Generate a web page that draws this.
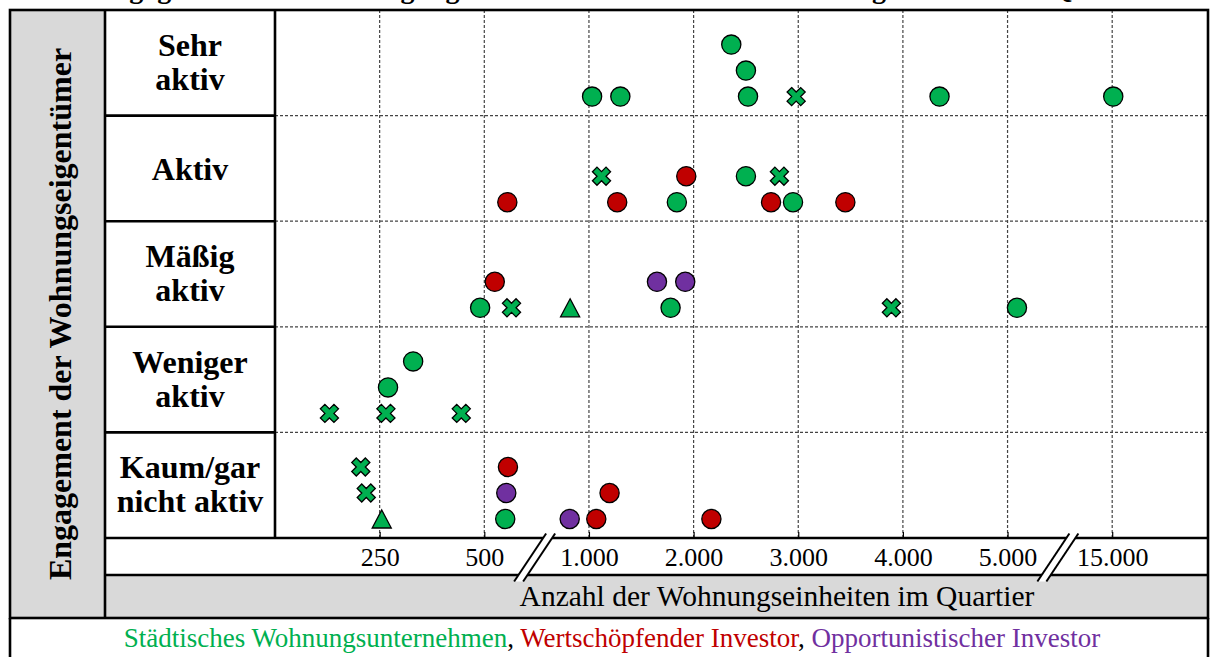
<!DOCTYPE html>
<html>
<head>
<meta charset="utf-8">
<script src="https://cdn.jsdelivr.net/npm/d3@7"></script>
<style>
  body { margin: 0; background: #fff; }
  svg { display: block; font-family: "Liberation Serif", "Times New Roman", serif; }
</style>
</head>
<body>
<div id="chart"></div>
<script>
var rows = ["Sehr aktiv", "Aktiv", "Mäßig aktiv", "Weniger aktiv", "Kaum/gar nicht aktiv"];
var rowLabels = [["Sehr", "aktiv"], ["Aktiv"], ["Mäßig", "aktiv"], ["Weniger", "aktiv"], ["Kaum/gar", "nicht aktiv"]];

var axisSteps = [0, 250, 500, 1000, 2000, 3000, 4000, 5000, 15000];
var tickValues = [250, 500, 1000, 2000, 3000, 4000, 5000, 15000];
var axisBreaks = [[500, 1000], [5000, 15000]];

var ownerTypes = ["Städtisches Wohnungsunternehmen", "Wertschöpfender Investor", "Opportunistischer Investor"];
var ownerColors = ["#00b050", "#c00000", "#7030a0"];

var yTitle = "Engagement der Wohnungseigentümer";
var xTitle = "Anzahl der Wohnungseinheiten im Quartier";
var topTitle = "Engagement der Wohnungseigentümer nach Anzahl der Wohnungseinheiten im Quartier";

// [engagement, units, stack level, marker]
var staedtisch = [
  ["Sehr aktiv", 1030, 0, "circle"],
  ["Sehr aktiv", 1300, 0, "circle"],
  ["Sehr aktiv", 2360, 2, "circle"],
  ["Sehr aktiv", 2500, 1, "circle"],
  ["Sehr aktiv", 2520, 0, "circle"],
  ["Sehr aktiv", 2980, 0, "cross"],
  ["Sehr aktiv", 4350, 0, "circle"],
  ["Sehr aktiv", 15100, 0, "circle"],
  ["Aktiv", 1120, 1, "cross"],
  ["Aktiv", 1840, 0, "circle"],
  ["Aktiv", 2500, 1, "circle"],
  ["Aktiv", 2820, 1, "cross"],
  ["Aktiv", 2950, 0, "circle"],
  ["Mäßig aktiv", 490, 0, "circle"],
  ["Mäßig aktiv", 630, 0, "cross"],
  ["Mäßig aktiv", 910, 0, "triangle"],
  ["Mäßig aktiv", 1780, 0, "circle"],
  ["Mäßig aktiv", 3890, 0, "cross"],
  ["Mäßig aktiv", 5900, 0, "circle"],
  ["Weniger aktiv", 330, 2, "circle"],
  ["Weniger aktiv", 270, 1, "circle"],
  ["Weniger aktiv", 130, 0, "cross"],
  ["Weniger aktiv", 265, 0, "cross"],
  ["Weniger aktiv", 445, 0, "cross"],
  ["Kaum/gar nicht aktiv", 205, 2, "cross"],
  ["Kaum/gar nicht aktiv", 218, 1, "cross"],
  ["Kaum/gar nicht aktiv", 255, 0, "triangle"],
  ["Kaum/gar nicht aktiv", 600, 0, "circle"]
];

var wertschoepfend = [
  ["Aktiv", 610, 0, "circle"],
  ["Aktiv", 1270, 0, "circle"],
  ["Aktiv", 1930, 1, "circle"],
  ["Aktiv", 2740, 0, "circle"],
  ["Aktiv", 3450, 0, "circle"],
  ["Mäßig aktiv", 550, 1, "circle"],
  ["Kaum/gar nicht aktiv", 613, 2, "circle"],
  ["Kaum/gar nicht aktiv", 1070, 0, "circle"],
  ["Kaum/gar nicht aktiv", 1197, 1, "circle"],
  ["Kaum/gar nicht aktiv", 2170, 0, "circle"]
];

var opportunistisch = [
  ["Mäßig aktiv", 1650, 1, "circle"],
  ["Mäßig aktiv", 1920, 1, "circle"],
  ["Kaum/gar nicht aktiv", 605, 1, "circle"],
  ["Kaum/gar nicht aktiv", 908, 0, "circle"]
];

var width = 1210,
  height = 657;

var frameLeft = 10,
  frameTop = 10,
  frameRight = 1208,
  frameBottom = 618,
  titleColRight = 105,
  plotLeft = 275,
  plotBottom = 538,
  tickRowBottom = 575;

var stepWidth = 104.65;

var x = d3
  .scaleLinear()
  .domain(axisSteps)
  .range(axisSteps.map(function(d, i) {
    return plotLeft + i * stepWidth;
  }));

var y = d3
  .scaleBand()
  .domain(rows)
  .range([frameTop, plotBottom]);

// position of a stacked marker inside its row
var level = d3
  .scaleLinear()
  .domain([0, 1])
  .range([y.bandwidth() - 19, y.bandwidth() - 45]);

var de = d3.formatLocale({ decimal: ",", thousands: ".", grouping: [3], currency: ["", " €"] });
var formatUnits = de.format(",d");

var svg = d3
  .select("#chart")
  .append("svg")
  .attr("width", width)
  .attr("height", height);

// heading above the frame, only its descenders are in view
svg
  .append("text")
  .attr("x", 95)
  .attr("y", -2)
  .attr("font-size", 28)
  .attr("font-weight", "bold")
  .text(topTitle);

// grey fills
svg
  .append("rect")
  .attr("x", frameLeft)
  .attr("y", frameTop)
  .attr("width", titleColRight - frameLeft)
  .attr("height", frameBottom - frameTop)
  .attr("fill", "#d9d9d9");

svg
  .append("rect")
  .attr("x", titleColRight)
  .attr("y", tickRowBottom)
  .attr("width", frameRight - titleColRight)
  .attr("height", frameBottom - tickRowBottom)
  .attr("fill", "#d9d9d9");

// dashed grid
var grid = svg.append("g").attr("stroke", "#444").attr("stroke-width", 1.2).attr("stroke-dasharray", "3,2");

grid
  .selectAll("line.v")
  .data(tickValues)
  .enter()
  .append("line")
  .attr("x1", function(d) { return x(d); })
  .attr("x2", function(d) { return x(d); })
  .attr("y1", frameTop)
  .attr("y2", plotBottom);

grid
  .selectAll("line.h")
  .data(rows.slice(1))
  .enter()
  .append("line")
  .attr("x1", plotLeft)
  .attr("x2", frameRight)
  .attr("y1", function(d) { return y(d); })
  .attr("y2", function(d) { return y(d); });

// x axis: ticks pointing up, labels below
var xAxis = d3
  .axisBottom(x)
  .tickValues(tickValues)
  .tickFormat(formatUnits)
  .tickSizeInner(-6)
  .tickSizeOuter(0)
  .tickPadding(10);

var axisG = svg
  .append("g")
  .attr("transform", "translate(0," + plotBottom + ")")
  .call(xAxis);

axisG.select(".domain").remove();
axisG.selectAll(".tick line").attr("stroke", "#000").attr("stroke-width", 1.2);
axisG
  .selectAll(".tick text")
  .attr("font-family", "Liberation Serif, Times New Roman, serif")
  .attr("font-size", 26)
  .attr("fill", "#000");

// markers
var crossType = {
  draw: function(context, size) {
    var r = Math.sqrt(size / 5) / 2;
    var c = Math.SQRT1_2;
    var pts = [[-3 * r, -r], [-r, -r], [-r, -3 * r], [r, -3 * r], [r, -r], [3 * r, -r],
      [3 * r, r], [r, r], [r, 3 * r], [-r, 3 * r], [-r, r], [-3 * r, r]];
    pts.forEach(function(p, i) {
      var px = (p[0] - p[1]) * c,
        py = (p[0] + p[1]) * c;
      if (i === 0) context.moveTo(px, py);
      else context.lineTo(px, py);
    });
    context.closePath();
  }
};

var triangleType = {
  draw: function(context, size) {
    var h = Math.sqrt(size);
    context.moveTo(0, -h / 2);
    context.lineTo(h * 0.53, h / 2);
    context.lineTo(-h * 0.53, h / 2);
    context.closePath();
  }
};

var markerShapes = {
  circle: d3.symbol().type(d3.symbolCircle).size(Math.PI * 9.6 * 9.6),
  cross: d3.symbol().type(crossType).size(205),
  triangle: d3.symbol().type(triangleType).size(324)
};

var series = [staedtisch, wertschoepfend, opportunistisch];

series.forEach(function(points, si) {
  svg
    .append("g")
    .selectAll("path")
    .data(points)
    .enter()
    .append("path")
    .attr("d", function(d) { return markerShapes[d[3]](); })
    .attr("transform", function(d) {
      return "translate(" + x(d[1]) + "," + (y(d[0]) + level(d[2])) + ")";
    })
    .attr("fill", ownerColors[si])
    .attr("stroke", "#000")
    .attr("stroke-width", 1.3);
});

// solid frame lines
var frame = svg.append("g").attr("stroke", "#000").attr("stroke-width", 2.6).attr("fill", "none");

frame
  .append("rect")
  .attr("x", frameLeft)
  .attr("y", frameTop)
  .attr("width", frameRight - frameLeft)
  .attr("height", frameBottom - frameTop);

frame.append("line").attr("x1", frameLeft).attr("x2", frameLeft).attr("y1", frameBottom).attr("y2", height);
frame.append("line").attr("x1", frameRight).attr("x2", frameRight).attr("y1", frameBottom).attr("y2", height);
frame.append("line").attr("x1", titleColRight).attr("x2", titleColRight).attr("y1", frameTop).attr("y2", frameBottom);
frame.append("line").attr("x1", plotLeft).attr("x2", plotLeft).attr("y1", frameTop).attr("y2", plotBottom);
frame.append("line").attr("x1", titleColRight).attr("x2", frameRight).attr("y1", plotBottom).attr("y2", plotBottom);
frame.append("line").attr("x1", titleColRight).attr("x2", frameRight).attr("y1", tickRowBottom).attr("y2", tickRowBottom);

frame
  .selectAll("line.row")
  .data(rows.slice(1))
  .enter()
  .append("line")
  .attr("x1", titleColRight)
  .attr("x2", plotLeft)
  .attr("y1", function(d) { return y(d); })
  .attr("y2", function(d) { return y(d); });

// axis breaks
var breakMid = (plotBottom + tickRowBottom) / 2 + 1;
axisBreaks.forEach(function(b) {
  var cx = (x(b[0]) + x(b[1])) / 2 - 2;
  var g = svg.append("g").attr("transform", "translate(" + cx + "," + breakMid + ")");
  g.append("polygon")
    .attr("points", [[-20.5, 24], [11.5, -24], [20.5, -24], [-11.5, 24]].join(" "))
    .attr("fill", "#fff");
  g.append("line").attr("x1", -20.5).attr("y1", 24).attr("x2", 11.5).attr("y2", -24)
    .attr("stroke", "#000").attr("stroke-width", 2);
  g.append("line").attr("x1", -11.5).attr("y1", 24).attr("x2", 20.5).attr("y2", -24)
    .attr("stroke", "#000").attr("stroke-width", 2);
});

// row labels
var catX = (titleColRight + plotLeft) / 2;
rows.forEach(function(r, i) {
  var lines = rowLabels[i];
  var mid = y(r) + y.bandwidth() / 2;
  var first = lines.length === 1 ? mid + 12 : mid - 7;
  svg
    .append("text")
    .attr("text-anchor", "middle")
    .attr("font-size", 32)
    .attr("font-weight", "bold")
    .selectAll("tspan")
    .data(lines)
    .enter()
    .append("tspan")
    .attr("x", catX)
    .attr("y", function(d, j) { return first + j * 34; })
    .text(function(d) { return d; });
});

// y title
svg
  .append("text")
  .attr("transform", "translate(71," + (frameTop + frameBottom) / 2 + ") rotate(-90)")
  .attr("text-anchor", "middle")
  .attr("font-size", 32)
  .attr("font-weight", "bold")
  .text(yTitle);

// x title
svg
  .append("text")
  .attr("x", 777)
  .attr("y", 606)
  .attr("text-anchor", "middle")
  .attr("font-size", 29.5)
  .text(xTitle);

// legend line
var legend = svg
  .append("text")
  .attr("x", 612)
  .attr("y", 647)
  .attr("text-anchor", "middle")
  .attr("font-size", 27);

ownerTypes.forEach(function(t, i) {
  legend.append("tspan").attr("fill", ownerColors[i]).text(t);
  if (i < ownerTypes.length - 1) legend.append("tspan").attr("fill", "#000").text(", ");
});
</script>
</body>
</html>
